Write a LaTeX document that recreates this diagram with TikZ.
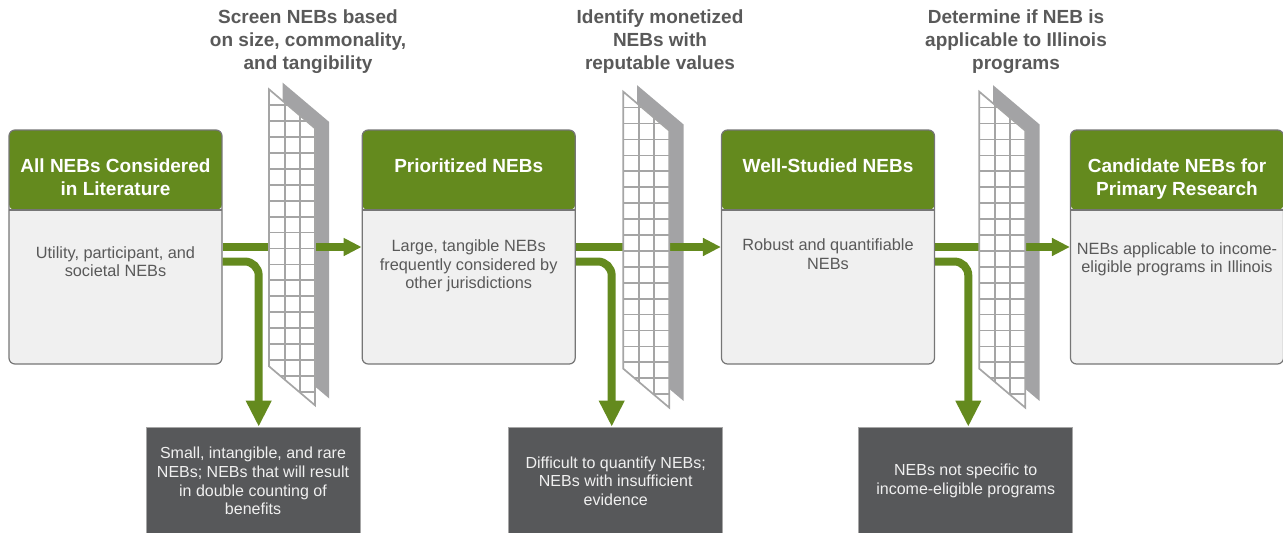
\documentclass[tikz,border=0pt]{standalone}
\usepackage{fontspec}
\setmainfont{Liberation Sans}
\usetikzlibrary{arrows.meta}

\definecolor{nebgreen}{RGB}{100,138,30}
\definecolor{bodygray}{RGB}{240,240,240}
\definecolor{edgegray}{RGB}{118,118,118}
\definecolor{textgray}{RGB}{89,89,89}
\definecolor{dropgray}{RGB}{87,88,90}
\definecolor{meshgray}{RGB}{165,165,165}
\definecolor{panelgray}{RGB}{163,163,165}

\tikzset{
  stage/.style={rectangle, rounded corners=6pt, draw=edgegray, line width=1.2pt, fill=bodygray,
    minimum width=213pt, minimum height=234pt, inner sep=0pt,
    path picture={\fill[nebgreen] (path picture bounding box.north west) rectangle ([yshift=-80pt]path picture bounding box.north east);
      \draw[edgegray, line width=1.2pt] ([yshift=-80pt]path picture bounding box.north west) -- ([yshift=-80pt]path picture bounding box.north east);}},
  headtext/.style={anchor=north, inner sep=0pt, align=center, text=white, font=\fontsize{19}{22.8}\selectfont\bfseries},
  bodytext/.style={anchor=north, inner sep=0pt, align=center, text=textgray, font=\fontsize{16.3}{18.7}\selectfont},
  steplabel/.style={anchor=north, inner sep=0pt, align=center, text=textgray, font=\fontsize{19}{22.8}\selectfont\bfseries},
  dropbox/.style={rectangle, draw=gray!70, line width=0.6pt, fill=dropgray, text=white!94!black,
    minimum width=214pt, minimum height=108pt, align=center, font=\fontsize{16}{18.7}\selectfont},
  mesh/.style={meshgray, line width=1.7pt},
  pass/.style={draw=nebgreen, line width=7.5pt, -{Triangle[length=18pt,width=17pt]}},
  drop/.style={draw=nebgreen, line width=8pt, rounded corners=14pt, -{Triangle[length=26pt,width=24pt]}},
}

\begin{document}
\begin{tikzpicture}[x=1pt, y=1pt]
  \useasboundingbox (0,0) rectangle (1283,-533);
  \node[stage] (lit) at (115.5,-247) {};
  \node[stage, right of=lit, node distance=353.2pt] (prio) {};
  \node[stage, right of=prio, node distance=359.3pt] (study) {};
  \node[stage, right of=study, node distance=349pt] (cand) {};
  \node[headtext] (lit-head) at ([yshift=-29.5pt]lit.north) {All NEBs Considered\\in Literature};
  \node[headtext] (prio-head) at ([yshift=-29.5pt]prio.north) {Prioritized NEBs};
  \node[headtext] (study-head) at ([yshift=-29.5pt]study.north) {Well-Studied NEBs};
  \node[headtext] (cand-head) at ([yshift=-29.5pt]cand.north) {Candidate NEBs for\\Primary Research};
  \node[bodytext] (lit-body) at ([yshift=-116.7pt]lit.north) {Utility, participant, and\\societal NEBs};
  \node[bodytext] (prio-body) at ([yshift=-110pt]prio.north) {Large, tangible NEBs\\frequently considered by\\other jurisdictions};
  \node[bodytext] (study-body) at ([yshift=-109pt]study.north) {Robust and quantifiable\\NEBs};
  \node[bodytext] (cand-body) at ([yshift=-112.7pt]cand.north) {NEBs applicable to income-\\eligible programs in Illinois};

  \foreach \fx/\fy in {269/89.3, 623.3/91.7, 979.3/91.7}
    \fill[panelgray] (\fx+13.7,-\fy+6.6) -- ++(46.5,-39.3) -- ++(0,-276.5) -- ++(-46.5,39.3) -- cycle;

  \draw[pass] (lit.east) -- (prio.west);
  \draw[pass] (prio.east) -- (study.west);
  \draw[pass] (study.east) -- (cand.west);

  \foreach \fx/\fy in {269/89.3, 623.3/91.7, 979.3/91.7}{
    \begin{scope}
      \clip (\fx,-\fy) -- ++(46,-39) -- ++(0,-277) -- ++(-46,39) -- cycle;
      \fill[white] (\fx,-\fy) rectangle ++(46,-320);
      \foreach \k in {1,...,20}
        \draw[mesh] (\fx,-\fy-15.92*\k) -- ++(46,0);
      \foreach \c in {16,31}
        \draw[mesh] (\fx+\c,-\fy+5) -- ++(0,-330);
    \end{scope}
    \draw[mesh] (\fx,-\fy) -- ++(46,-39) -- ++(0,-277) -- ++(-46,39) -- cycle;
  }

  \node[dropbox] (dropA) at (253,-481) {Small, intangible, and rare\\NEBs; NEBs that will result\\in double counting of\\benefits};
  \node[dropbox] (dropB) at (615.7,-481) {Difficult to quantify NEBs;\\NEBs with insufficient\\evidence};
  \node[dropbox] (dropC) at (965.7,-481) {NEBs not specific to\\income-eligible programs};
  \draw[drop] ([yshift=-14.5pt]lit.east) -| ([xshift=5.7pt]dropA.north);
  \draw[drop] ([yshift=-14.5pt]prio.east) -| ([xshift=-4pt]dropB.north);
  \draw[drop] ([yshift=-14.5pt]study.east) -| ([xshift=2.6pt]dropC.north);

  \node[steplabel] (screen) at (308,-10) {Screen NEBs based\\on size, commonality,\\and tangibility};
  \node[steplabel] (monetize) at (660,-10) {Identify monetized\\NEBs with\\reputable values};
  \node[steplabel] (apply) at (1016,-10) {Determine if NEB is\\applicable to Illinois\\programs};
\end{tikzpicture}
\end{document}
